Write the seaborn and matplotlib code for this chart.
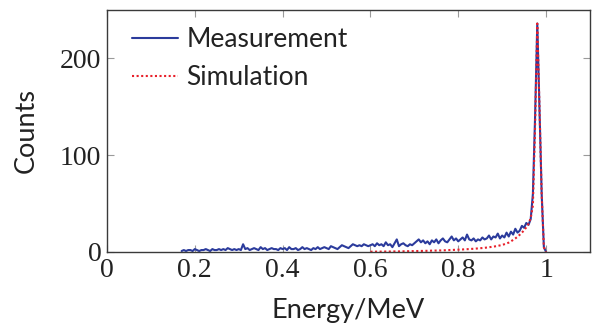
import numpy as np
import pandas as pd
import seaborn as sns
import matplotlib
matplotlib.use("Agg")
import matplotlib.pyplot as plt

# Spectrum, bin width 5 keV
bin_width = 0.005

meas_start = 0.170
meas_counts = [
    # 0.170 - 0.295
    1, 2, 1, 2, 2, 1, 3, 2, 1, 2, 2, 3, 2, 1, 3, 2, 2, 3, 2, 3, 2, 4, 3, 2, 3, 2,
    # 0.300 - 0.395
    3, 2, 8, 3, 4, 2, 3, 4, 3, 2, 5, 3, 4, 2, 3, 4, 3, 3, 2, 4,
    # 0.400 - 0.495
    3, 4, 2, 5, 3, 3, 4, 2, 3, 5, 3, 4, 3, 2, 4, 3, 5, 3, 4, 5,
    # 0.500 - 0.595
    4, 3, 6, 5, 4, 3, 5, 7, 6, 5, 4, 6, 8, 7, 6, 7, 6, 8, 7, 6,
    # 0.600 - 0.695
    7, 8, 6, 9, 7, 8, 6, 10, 7, 8, 5, 9, 13, 6, 8, 9, 7, 6, 8, 7,
    # 0.700 - 0.795
    9, 11, 13, 10, 12, 9, 11, 8, 12, 10, 13, 9, 12, 14, 11, 10, 13, 16, 12, 14,
    # 0.800 - 0.895
    11, 13, 15, 12, 18, 13, 12, 14, 11, 13, 12, 15, 13, 14, 17, 13, 16, 15, 19, 14,
    # 0.900 - 0.995
    17, 15, 20, 16, 21, 18, 24, 20, 22, 27, 25, 30, 28, 34, 60, 140, 236, 150, 60, 5,
    # 1.000
    0,
]

sim_start = 0.600
sim_counts = [
    # 0.600 - 0.695
    0.3, 0.3, 0.3, 0.4, 0.4, 0.4, 0.4, 0.5, 0.5, 0.5, 0.5, 0.6, 0.6, 0.6, 0.7, 0.7, 0.7, 0.8, 0.8, 0.9,
    # 0.700 - 0.795
    0.9, 1.0, 1.0, 1.1, 1.1, 1.2, 1.2, 1.3, 1.4, 1.4, 1.5, 1.6, 1.6, 1.7, 1.8, 1.9, 2.0, 2.1, 2.2, 2.3,
    # 0.800 - 0.895
    2.4, 2.5, 2.6, 2.8, 2.9, 3.0, 3.2, 3.3, 3.5, 3.7, 3.9, 4.1, 4.3, 4.6, 4.9, 5.2, 5.5, 5.9, 6.3, 6.8,
    # 0.900 - 0.995
    7.3, 8.0, 8.8, 9.7, 11.0, 12.5, 14.0, 15.8, 17.8, 20.0, 22.5, 25.5, 29.0, 35.0, 48.0, 130.0, 236.0, 150.0, 60.0, 5.0,
    # 1.000
    0.0,
]

x_ticks = [0, 0.2, 0.4, 0.6, 0.8, 1]
x_tick_labels = ["0", "0.2", "0.4", "0.6", "0.8", "1"]
y_ticks = [0, 100, 200]
y_tick_labels = ["0", "100", "200"]

meas = pd.DataFrame({
    "energy": meas_start + bin_width * np.arange(len(meas_counts)),
    "counts": meas_counts,
})
sim = pd.DataFrame({
    "energy": sim_start + bin_width * np.arange(len(sim_counts)),
    "counts": sim_counts,
})

sns.set_theme(style="white")
plt.rcParams["font.family"] = ["Lato", "DejaVu Sans"]

fig = plt.figure(figsize=(5.93, 3.31), dpi=100)
ax = fig.add_axes([0.1804, 0.2387, 0.8145, 0.7311])

sns.lineplot(data=meas, x="energy", y="counts", ax=ax, color="#2b3b9c",
             linewidth=1.5, label="Measurement")
sns.lineplot(data=sim, x="energy", y="counts", ax=ax, color="#e8202a",
             linewidth=1.5, dashes=False, label="Simulation")
ax.lines[1].set_dashes((1, 1.2))

ax.set_xlim(0, 1.1)
ax.set_ylim(0, 250)
ax.set_xticks(x_ticks)
ax.set_xticklabels(x_tick_labels)
ax.set_yticks(y_ticks)
ax.set_yticklabels(y_tick_labels)

for lab in ax.get_xticklabels() + ax.get_yticklabels():
    lab.set_fontfamily("Liberation Serif")
    lab.set_fontsize(20)
    lab.set_color("#222222")

ax.tick_params(axis="both", which="major", direction="in", length=5,
               width=0.8, color="#9a9a9a", top=True, right=True,
               bottom=True, left=True, pad=4)

for sp in ax.spines.values():
    sp.set_color("#3a3a3a")
    sp.set_linewidth(1.0)

ax.set_xlabel("Energy/MeV", fontsize=19.5, color="#222222", labelpad=11)
ax.set_ylabel("Counts", fontsize=19.5, color="#222222", labelpad=15)

leg = ax.legend(loc="upper left", bbox_to_anchor=(0.052, 0.93),
                frameon=False, fontsize=19,
                handlelength=1.75, handletextpad=0.3, labelspacing=0.5,
                borderaxespad=0.0, borderpad=0.0)
for t in leg.get_texts():
    t.set_color("#222222")
for h in leg.get_lines():
    h.set_linewidth(1.5)

fig.savefig("out.png", dpi=100, facecolor="white")
